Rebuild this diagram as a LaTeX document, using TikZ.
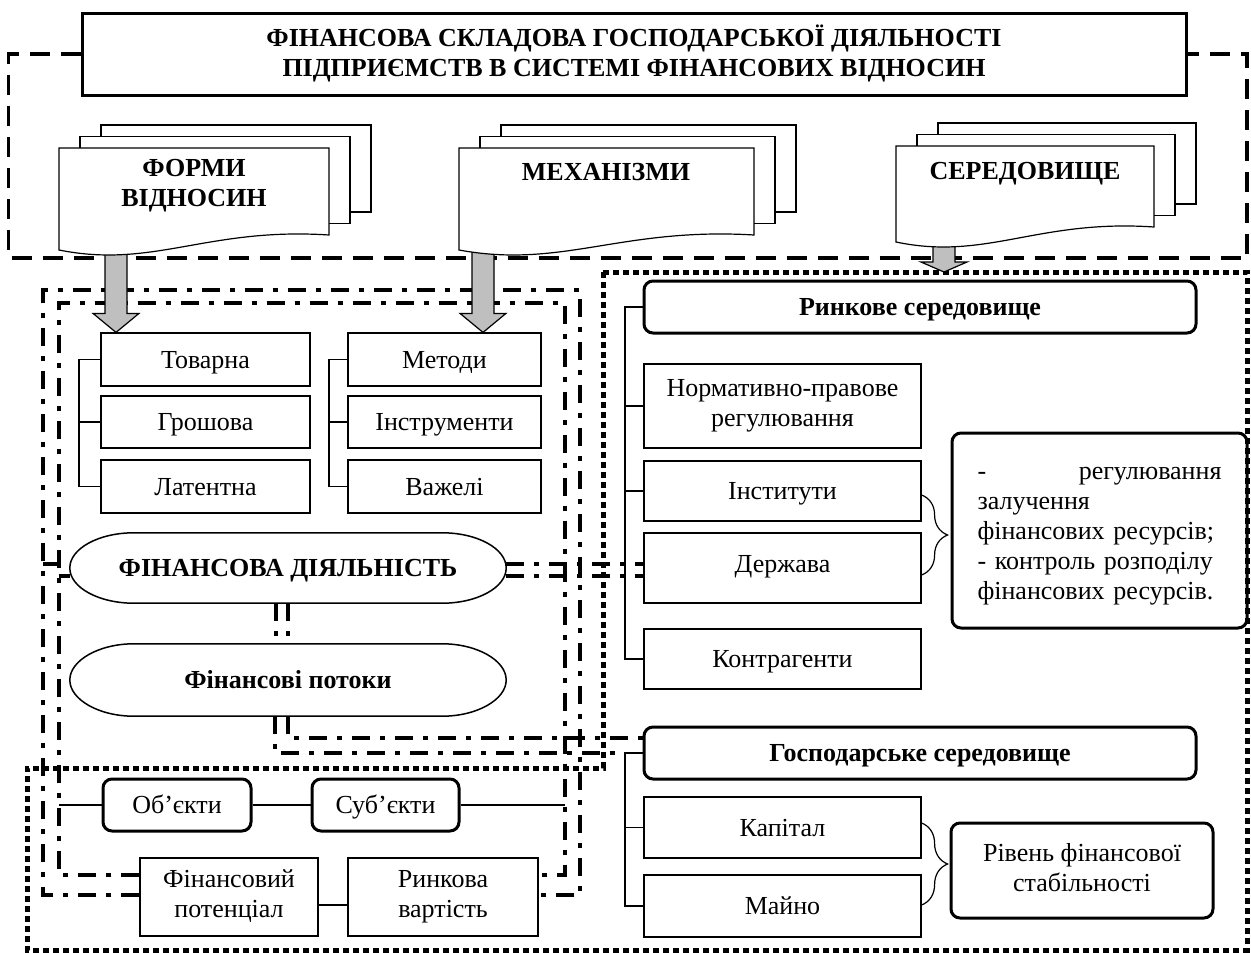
\documentclass[tikz,border=0pt]{standalone}
\usepackage{fontspec}
\setmainfont{Liberation Serif}
\usetikzlibrary{calc,decorations.pathreplacing}

\definecolor{arrowgray}{RGB}{191,191,191}
\newcommand{\bodysize}{\fontsize{26}{30}\selectfont}
\newcommand{\vstrut}{\rule[-6pt]{0pt}{29pt}}

% three stacked pages, front page with a wavy lower edge: left, top, width, height
\newcommand{\docpages}[4]{%
  \draw[thinbox, fill=white] ({#1+42},{#2-23}) rectangle ++(#3,#4);
  \draw[thinbox, fill=white] ({#1+21},{#2-11.5}) rectangle ++(#3,#4);
  \draw[thinbox, fill=white] (#1,#2) -- ++(#3,0) -- ++(0,#4)
    .. controls ({#1+0.55*#3},{#2+#4-8}) and ({#1+0.35*#3},{#2+#4+34}) .. ({#1},{#2+#4+15}) -- cycle;
}
% grey block arrow: start, tip, head length
\newcommand{\grayarrow}[3]{%
  \draw[thinbox, fill=arrowgray] ($(#1)+(-11,0)$) -- ($(#1)+(11,0)$) -- ($(#2)+(11,-#3)$)
    -- ($(#2)+(23,-#3)$) -- (#2) -- ($(#2)+(-23,-#3)$) -- ($(#2)+(-11,-#3)$) -- cycle;
}
% oval with flat top and bottom round a node
\newcommand{\ovalframe}[1]{%
  \draw[line width=1.5pt] ($(#1.north west)+(64,0)$) -- ($(#1.north east)+(-64,0)$)
    .. controls +(35,0) and +(0,-19.5) .. (#1.east)
    .. controls +(0,19.5) and +(35,0) .. ($(#1.south east)+(-64,0)$)
    -- ($(#1.south west)+(64,0)$)
    .. controls +(-35,0) and +(0,19.5) .. (#1.west)
    .. controls +(0,-19.5) and +(-35,0) .. ($(#1.north west)+(64,0)$) -- cycle;
}

\tikzset{
  every node/.style={font=\bodysize, execute at begin node=\vstrut, execute at end node=\vstrut},
  thinbox/.style={draw, line width=1.2pt},
  itembox/.style={thinbox, fill=white, align=center, inner sep=2pt},
  roundbox/.style={draw, line width=3pt, rounded corners=9pt, fill=white, align=center},
  boldtext/.style={font=\bodysize\bfseries},
  treeline/.style={line width=1.2pt},
  dashframe/.style={line width=3.5pt, dash pattern=on 20pt off 11pt},
  dotframe/.style={line width=5pt, dash pattern=on 6pt off 4pt},
  dashdotframe/.style={line width=4pt, dash pattern=on 18pt off 10pt on 5pt off 10pt},
  bracestyle/.style={line width=1.2pt, decorate, decoration={brace, amplitude=26pt}}
}

\begin{document}
\begin{tikzpicture}[x=1pt,y=-1pt]
\useasboundingbox (0,0) rectangle (1251,953);

\node[draw, line width=3pt, boldtext, align=center, minimum width=1104pt, minimum height=82pt] (title) at (634,54)
  {ФІНАНСОВА СКЛАДОВА ГОСПОДАРСЬКОЇ ДІЯЛЬНОСТІ\\ПІДПРИЄМСТВ В СИСТЕМІ ФІНАНСОВИХ ВІДНОСИН};

% forms and mechanisms
\node[itembox, minimum width=209pt, minimum height=53pt] (tov) at (205.5,359.5) {Товарна};
\node[itembox, minimum width=209pt, minimum height=52pt] (hro) at (205.5,422) {Грошова};
\node[itembox, minimum width=209pt, minimum height=53pt] (lat) at (205.5,486.5) {Латентна};
\node[itembox, minimum width=193pt, minimum height=53pt] (met) at (444.5,359.5) {Методи};
\node[itembox, minimum width=193pt, minimum height=52pt] (instr) at (444.5,422) {Інструменти};
\node[itembox, minimum width=193pt, minimum height=53pt] (vazh) at (444.5,486.5) {Важелі};

\node[boldtext, minimum width=436pt, minimum height=70pt] (fd) at (288,568) {ФІНАНСОВА ДІЯЛЬНІСТЬ};
\ovalframe{fd}
\node[boldtext, minimum width=436pt, minimum height=72pt] (fp) at (288,680) {Фінансові потоки};
\ovalframe{fp}

\node[roundbox, minimum width=148pt, minimum height=52pt] (obj) at (177,805) {Об’єкти};
\node[roundbox, minimum width=147pt, minimum height=52pt] (subj) at (385.5,805) {Суб’єкти};
\node[itembox, minimum width=178pt, minimum height=78pt] (pot) at (229,897) {Фінансовий\\потенціал};
\node[itembox, minimum width=190pt, minimum height=78pt] (vart) at (443,897) {Ринкова\\вартість};

% environment
\node[roundbox, boldtext, minimum width=552pt, minimum height=52pt] (rynk) at (920,307) {Ринкове середовище};
\node[itembox, minimum width=277pt, minimum height=84pt] (norm) at (782.5,406) {Нормативно-правове\\регулювання};
\node[itembox, minimum width=277pt, minimum height=60pt] (inst) at (782.5,491) {Інститути};
\node[itembox, minimum width=277pt, minimum height=70pt, text depth=14pt] (derzh) at (782.5,568) {Держава};
\node[itembox, minimum width=277pt, minimum height=60pt] (kontr) at (782.5,659) {Контрагенти};
\node[roundbox, align=left, text width=244pt, minimum width=295pt, minimum height=195pt] (reg) at (1099.5,530.5)
  {\makebox[244pt]{-\hfill регулювання}\\залучення\\фінансових ресурсів;\\\makebox[244pt][s]{- контроль розподілу}\\фінансових ресурсів.};

\node[roundbox, boldtext, minimum width=552pt, minimum height=52pt] (gosp) at (920,753) {Господарське середовище};
\node[itembox, minimum width=277pt, minimum height=61pt] (kap) at (782.5,827.5) {Капітал};
\node[itembox, minimum width=277pt, minimum height=62pt] (majno) at (782.5,906) {Майно};
\node[roundbox, minimum width=262pt, minimum height=95pt] (riv) at (1082,870.5) {Рівень фінансової\\стабільності};

% trees
\draw[treeline] (tov.west) -| (lat.west -| 79,0) -- (lat.west);
\draw[treeline] (hro.west) -- (hro.west -| 79,0);
\draw[treeline] (met.west) -| (vazh.west -| 329,0) -- (vazh.west);
\draw[treeline] (instr.west) -- (instr.west -| 329,0);
\draw[treeline] (rynk.west) -| (kontr.west -| 625,0) -- (kontr.west);
\foreach \b in {norm,inst}
  \draw[treeline] (\b.west) -- (\b.west -| 625,0);
\draw[treeline] (gosp.west) -| (majno.west -| 625,0) -- (majno.west);
\draw[treeline] (kap.west) -- (kap.west -| 625,0);
\draw[treeline] (59,805) -- (obj.west) (obj.east) -- (subj.west) (subj.east) -- (565,805);
\draw[treeline] (pot.east |- 0,905) -- (vart.west |- 0,905);

\draw[bracestyle] (inst.east |- 0,495) -- (derzh.east |- 0,575);
\draw[bracestyle] (kap.east |- 0,823) -- (majno.east |- 0,905);

% frames
\draw[dashframe] (title.west) -- ++(-72,0) |- (1247,258) |- (title.east);
\draw[dotframe] (603,272) -- (1247,272) -- (1247,950) -- (27,950) -- (27,768) -- (603,768) -- cycle;

\draw[dashdotframe] (pot.west |- 0,895) -- (43,895) -- (43,290) -- (580,290) -- (580,895) -- (vart.east |- 0,895);
\draw[dashdotframe] (pot.west |- 0,875) -- (59,875) -- (59,303) -- (565,303) -- (565,875) -- (vart.east |- 0,875);
\draw[dashdotframe] (43,564) -- (fd.west |- 0,564);
\draw[dashdotframe] (59,576) -- (fd.west |- 0,576);
\draw[dashdotframe] (fd.east |- 0,564) -- (derzh.west |- 0,564);
\draw[dashdotframe] (fd.east |- 0,576) -- (derzh.west |- 0,576);
\draw[dashdotframe] (fd.south -| 276,0) -- (fp.north -| 276,0);
\draw[dashdotframe] (fd.south -| 288,0) -- (fp.north -| 288,0);
\draw[dashdotframe] (fp.south -| 288,0) |- (gosp.west |- 0,738);
\draw[dashdotframe] (fp.south -| 275,0) |- (gosp.west -| 625,0);

% arrows from the documents
\coordinate (formyout) at (116,250);
\coordinate (formyin) at (tov.north -| formyout);
\coordinate (mechout) at (483,250);
\coordinate (mechin) at (met.north -| mechout);
\coordinate (seredout) at (944,240);
\coordinate (seredin) at (944,272);
\grayarrow{formyout}{formyin}{19}
\grayarrow{mechout}{mechin}{19}
\grayarrow{seredout}{seredin}{10}

\docpages{59}{148}{270}{87}
\docpages{459}{148}{295}{87}
\docpages{896}{146}{258}{81}
\node[boldtext, align=center] (formy) at (194,186) {ФОРМИ\\ВІДНОСИН};
\node[boldtext] (mech) at (606,172) {МЕХАНІЗМИ};
\node[boldtext] (sered) at (1025,171) {СЕРЕДОВИЩЕ};

\end{tikzpicture}
\end{document}
